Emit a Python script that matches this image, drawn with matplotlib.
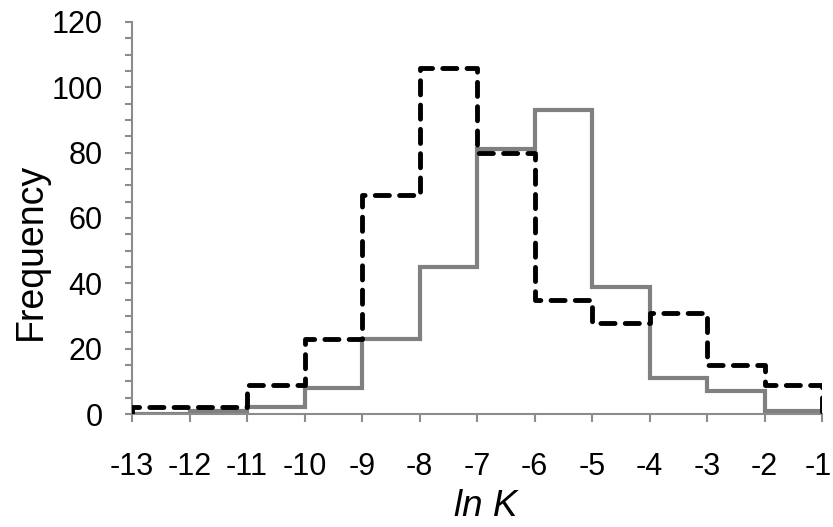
import numpy as np
import matplotlib.pyplot as plt
import matplotlib.transforms as mtransforms
from matplotlib.ticker import MultipleLocator

plt.rcParams['font.family'] = ['Liberation Sans', 'DejaVu Sans']
plt.rcParams['axes.unicode_minus'] = False

# bin edges of ln K and the two frequency histograms
edges = np.arange(-13, 0, 1)
dashed_counts = [2, 2, 9, 23, 67, 106, 80, 35, 28, 31, 15, 9]
gray_counts = [0, 1, 2, 8, 23, 45, 81, 93, 39, 11, 7, 1]
x_ticks = list(range(-13, 0))

axis_grey = '#8c8c8c'

fig = plt.figure(figsize=(8.33, 5.27), dpi=100)
ax = fig.add_axes([0.1585, 0.2144, 0.8283, 0.7439])

ax.stairs(gray_counts, edges, baseline=0, color='#808080', linewidth=3.0,
          zorder=2)
dl = ax.stairs(dashed_counts, edges, baseline=0, color='black',
               linewidth=3.5, zorder=3)
dl.set_linestyle((0, (2.9, 2.1)))
dl.set_capstyle('round')
dl.set_joinstyle('round')

ax.set_xlim(-13, -1)
ax.set_ylim(0, 120)
ax.set_xticks(x_ticks)
ax.set_yticks(range(0, 121, 20))
ax.yaxis.set_minor_locator(MultipleLocator(5))

for s in ['top', 'right']:
    ax.spines[s].set_visible(False)
for s in ['left', 'bottom']:
    ax.spines[s].set_color(axis_grey)
    ax.spines[s].set_linewidth(1.5)

ax.tick_params(axis='y', which='both', direction='out', length=5, width=1.5,
               color=axis_grey, labelsize=22, pad=16)
ax.tick_params(axis='x', direction='out', length=6, width=1.5,
               color=axis_grey, labelsize=22, pad=21)

# nudge the last x label in so it stays inside the image
last = ax.get_xticklabels()[-1]
last.set_transform(last.get_transform() +
                   mtransforms.ScaledTranslation(-4 / 100, 0, fig.dpi_scale_trans))

# axis titles placed by hand, the y one sits below the axes centre
fig.text(486 / 833, 1 - 506 / 527, 'ln K', fontsize=26.5, style='italic',
         ha='center', va='center')
fig.text(31 / 833, 1 - 251 / 527, 'Frequency', fontsize=27, rotation=90,
         ha='center', va='center')

fig.savefig('out.png', dpi=100)
